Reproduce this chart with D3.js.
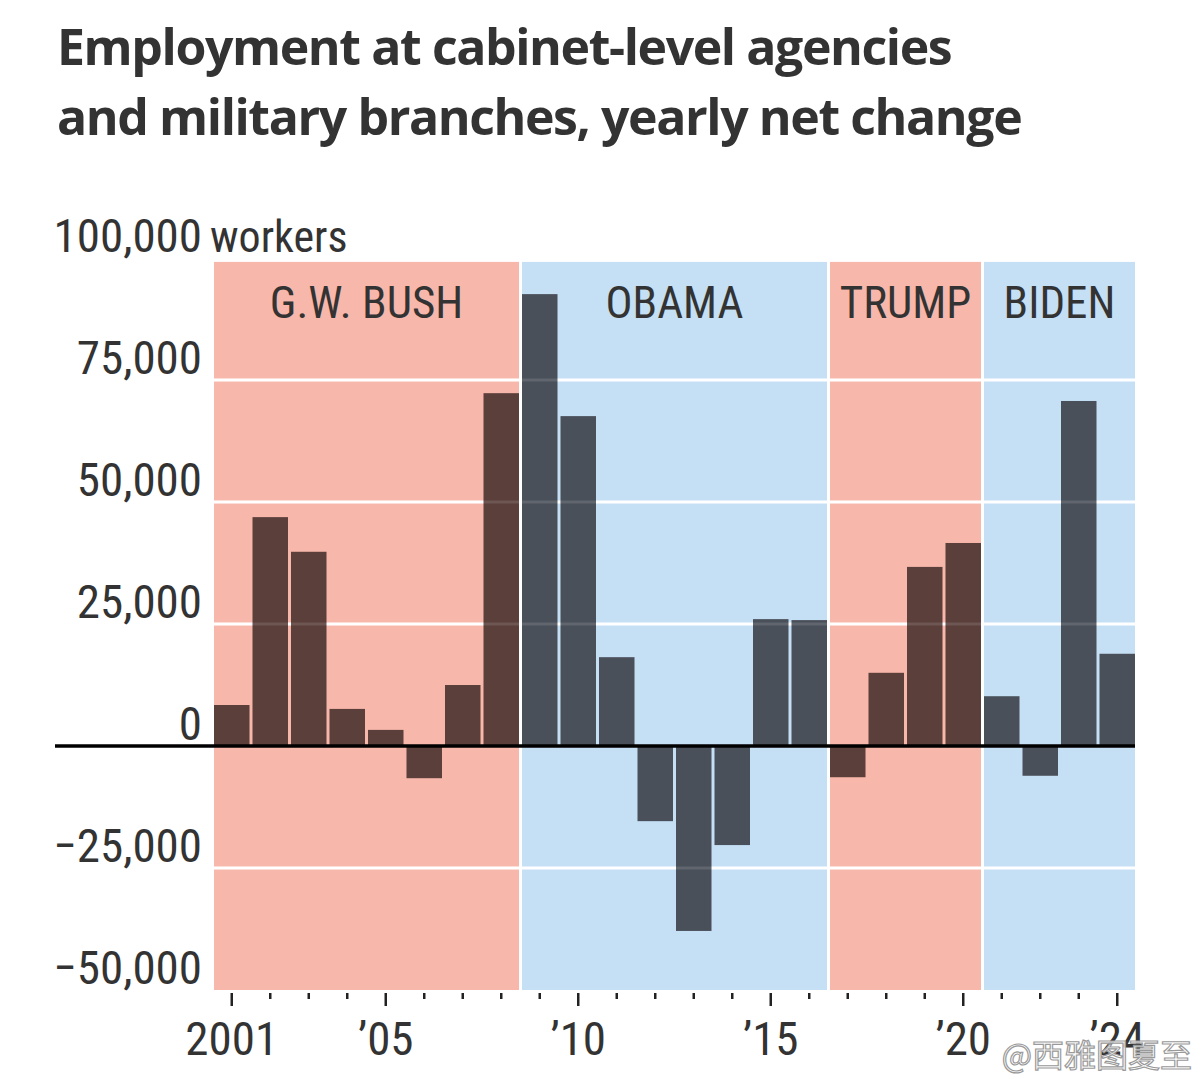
<!DOCTYPE html>
<html>
<head>
<meta charset="utf-8">
<script src="https://cdn.jsdelivr.net/npm/d3@7"></script>
<style>
  html, body { margin: 0; padding: 0; background: #ffffff; }
  svg { display: block; }
</style>
</head>
<body>
<svg id="chart" width="1204" height="1080"></svg>
<script>
// ---------- data ----------
const years = [2001,2002,2003,2004,2005,2006,2007,2008,2009,2010,2011,2012,2013,2014,2015,2016,2017,2018,2019,2020,2021,2022,2023,2024];
const netChange = [8400,46900,39800,7600,3300,-6600,12500,72300,92600,67600,18200,-15400,-37900,-20300,26000,25800,-6400,15000,36700,41600,10200,-6100,70700,18900];
const presidents = ["G.W. BUSH","OBAMA","TRUMP","BIDEN"];
const termStart = [2001,2009,2017,2021];
const termEnd = [2008,2016,2020,2024];
const termParty = ["R","D","R","D"];
const yTicks = [-50000,-25000,0,25000,50000,75000,100000];
const gridValues = [-25000,25000,50000,75000];
const majorTickYears = [2001,2005,2010,2015,2020,2024];
const majorTickLabels = ["2001","\u201905","\u201910","\u201915","\u201920","\u201924"];
const titleLines = ["Employment at cabinet-level agencies","and military branches, yearly net change"];
const unitLabel = "workers";
const watermark = "@西雅图夏至";

// ---------- style ----------
const bgColor = {R:"#f8b7ab", D:"#c5dff4"};
const barColor = {R:"#5b3f3b", D:"#4a505a"};
const textColor = "#333333";
const narrow = "'Liberation Sans Narrow', 'Arial Narrow', 'Roboto Condensed', sans-serif";

const svg = d3.select("#chart");

const x = d3.scaleBand().domain(years).range([212.5, 1136.5]).padding(0);
const y = d3.scaleLinear().domain([-50000, 100000]).range([990, 258]);
const gap = 1.5;

const partyOf = yr => termParty[termStart.findIndex((s,i)=> yr>=s && yr<=termEnd[i])];

// title
svg.append("g").selectAll("text").data(titleLines).join("text")
  .attr("x", 57).attr("y", (d,i)=> 65 + i*70)
  .attr("font-family", "'Open Sans', sans-serif")
  .attr("font-weight", 700)
  .attr("font-size", 50)
  .attr("letter-spacing", -1.4)
  .attr("fill", textColor)
  .text(d=>d);

// term shading
const shadeTop = y(99200);
svg.append("g").selectAll("rect").data(presidents).join("rect")
  .attr("x", (d,i)=> x(termStart[i]) + gap)
  .attr("y", shadeTop)
  .attr("width", (d,i)=> x(termEnd[i]) + x.bandwidth() - gap - (x(termStart[i]) + gap))
  .attr("height", y(-50000) - shadeTop)
  .attr("fill", (d,i)=> bgColor[termParty[i]]);

// gridlines under bars
svg.append("g").selectAll("line").data(gridValues).join("line")
  .attr("x1", x(2001)+gap).attr("x2", x(2024)+x.bandwidth()-gap)
  .attr("y1", d=>y(d)).attr("y2", d=>y(d))
  .attr("stroke", "#ffffff").attr("stroke-width", 3);

// bars
const data = years.map((yr,i)=>({year:yr, value:netChange[i]}));
svg.append("g").selectAll("rect").data(data).join("rect")
  .attr("x", d=> x(d.year) + gap)
  .attr("width", x.bandwidth() - 2*gap)
  .attr("y", d=> y(Math.max(0,d.value)))
  .attr("height", d=> Math.abs(y(d.value) - y(0)))
  .attr("fill", d=> barColor[partyOf(d.year)]);

// gridlines over bars (faint)
svg.append("g").selectAll("line").data(gridValues).join("line")
  .attr("x1", x(2001)+gap).attr("x2", x(2024)+x.bandwidth()-gap)
  .attr("y1", d=>y(d)).attr("y2", d=>y(d))
  .attr("stroke", "#ffffff").attr("stroke-opacity", 0.12).attr("stroke-width", 3);

// zero line
svg.append("line")
  .attr("x1", 55).attr("x2", x(2024)+x.bandwidth()-gap)
  .attr("y1", y(0)).attr("y2", y(0))
  .attr("stroke", "#000").attr("stroke-width", 3.5);

// president labels
svg.append("g").selectAll("text").data(presidents).join("text")
  .attr("x", (d,i)=> (x(termStart[i]) + x(termEnd[i]) + x.bandwidth())/2)
  .attr("y", 318)
  .attr("text-anchor", "middle")
  .attr("font-family", narrow)
  .attr("font-size", 45)
  .attr("fill", textColor)
  .text(d=>d);

// y-axis labels
const yl = svg.append("g");
yl.selectAll("text").data(yTicks).join("text")
  .attr("x", 202)
  .attr("y", d=> y(d) - 6)
  .attr("text-anchor", "end")
  .attr("font-family", narrow)
  .attr("font-size", 47)
  .attr("fill", textColor)
  .text(d=> d3.format(",")(d).replace("-", "\u2212"));
yl.append("text")
  .attr("x", 210).attr("y", y(100000) - 6)
  .attr("font-family", narrow)
  .attr("font-size", 44)
  .attr("fill", textColor)
  .text(unitLabel);

// x-axis ticks
const xa = svg.append("g");
xa.selectAll("line").data(years).join("line")
  .attr("x1", d=> x(d)+x.bandwidth()/2).attr("x2", d=> x(d)+x.bandwidth()/2)
  .attr("y1", 993)
  .attr("y2", d=> majorTickYears.includes(d) ? 1006 : 999)
  .attr("stroke", "#222").attr("stroke-width", 2.5);
xa.selectAll("text").data(majorTickYears).join("text")
  .attr("x", d=> x(d)+x.bandwidth()/2)
  .attr("y", 1055)
  .attr("text-anchor", "middle")
  .attr("font-family", narrow)
  .attr("font-size", 47)
  .attr("fill", textColor)
  .text((d,i)=> majorTickLabels[i]);

// watermark
svg.append("text")
  .attr("x", 1192).attr("y", 1067)
  .attr("text-anchor", "end")
  .attr("font-family", "'Noto Sans CJK SC', sans-serif")
  .attr("font-size", 32)
  .attr("fill", "#ffffff").attr("fill-opacity", 0.85)
  .attr("stroke", "#9a9a9a").attr("stroke-width", 1.2)
  .text(watermark);
</script>
</body>
</html>
